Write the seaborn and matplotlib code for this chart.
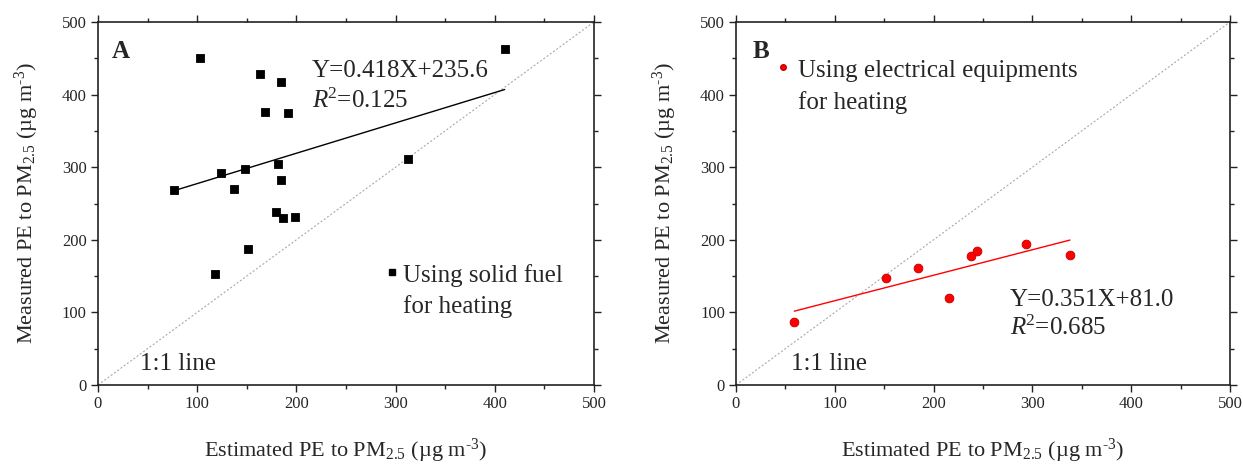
import numpy as np
import pandas as pd
import matplotlib.pyplot as plt
from matplotlib.ticker import MultipleLocator
import seaborn as sns

# panel A: solid fuel heating
solid_est = [103, 163, 185, 168, 192, 410, 313, 182, 124, 148, 77, 137, 185, 180, 187, 199, 151, 118]
solid_meas = [451, 428, 417, 376, 375, 463, 311, 304, 292, 297, 269, 270, 283, 238, 230, 232, 188, 153]
solid_fit = (0.418, 235.6)

# panel B: electrical heating
elec_est = [59, 152, 184, 216, 238, 244, 294, 338]
elec_meas = [87, 147, 161, 120, 178, 185, 194, 179]
elec_fit = (0.351, 81.0)

sns.set_theme(style="ticks")
plt.rcParams['font.family'] = ['Liberation Serif', 'DejaVu Serif']
plt.rcParams['mathtext.fontset'] = 'custom'
plt.rcParams['mathtext.rm'] = 'Liberation Serif'
plt.rcParams['mathtext.it'] = 'Liberation Serif:italic'
plt.rcParams['mathtext.bf'] = 'Liberation Serif:bold'

fig = plt.figure(figsize=(12.43, 4.66), dpi=100)
ax1 = fig.add_axes([0.0788, 0.1738, 0.3990, 0.7790])
ax2 = fig.add_axes([0.5921, 0.1738, 0.3974, 0.7790])

xlab = 'Estimated PE to PM$_{2.5}$ (\u00b5g m$^{\u20103}$)'
ylab = 'Measured PE to PM$_{2.5}$ (\u00b5g m$^{\u20103}$)'
FS = 18


def panel(ax, est, meas, fit, color, marker, size, edge, one_x):
    df = pd.DataFrame({'est': est, 'meas': meas})
    # 1:1 reference line
    ax.plot([0, 500], [0, 500], color='#a8a8a8', lw=0.8, ls=(0, (1.8, 1.8)), zorder=1)
    xs = np.array([min(est), max(est)])
    line = pd.DataFrame({'x': xs, 'y': fit[0] * xs + fit[1]})
    sns.lineplot(data=line, x='x', y='y', ax=ax, color=color, lw=1.0, zorder=2)
    sns.scatterplot(data=df, x='est', y='meas', ax=ax, color=color, marker=marker,
                    s=size, edgecolor=edge, linewidth=0.6, zorder=3)
    ax.set_xlim(0, 500)
    ax.set_ylim(0, 500)
    ax.xaxis.set_major_locator(MultipleLocator(100))
    ax.yaxis.set_major_locator(MultipleLocator(100))
    ax.xaxis.set_minor_locator(MultipleLocator(50))
    ax.yaxis.set_minor_locator(MultipleLocator(50))
    ax.tick_params(which='major', length=5, width=1.0, direction='out', labelsize=12,
                   top=True, right=True, color='#222222', pad=3)
    ax.tick_params(which='minor', length=3, width=1.0, direction='out',
                   top=True, right=True, color='#222222')
    for s in ax.spines.values():
        s.set_linewidth(1.2)
        s.set_color('#222222')
    ax.set_xlabel(xlab, fontsize=16, labelpad=18)
    ax.set_ylabel(ylab, fontsize=16, labelpad=15)
    ax.text(one_x, 20, '1:1 line', fontsize=FS, va='baseline')


panel(ax1, solid_est, solid_meas, solid_fit, 'black', 's', 30, 'black', 42)
ax1.text(0.028, 0.90, 'A', transform=ax1.transAxes, fontsize=FS, fontweight='bold',
         va='baseline')
ax1.text(0.432, 0.848, 'Y=0.418X+235.6', transform=ax1.transAxes, fontsize=FS,
         va='baseline')
ax1.text(0.432, 0.763, '$R$$^2$=0.125', transform=ax1.transAxes, fontsize=FS,
         va='baseline')
ax1.plot([296], [156], marker='s', color='black', ms=4, ls='none')
ax1.text(308, 142, 'Using solid fuel', fontsize=FS, va='baseline')
ax1.text(308, 99, 'for heating', fontsize=FS, va='baseline')

panel(ax2, elec_est, elec_meas, elec_fit, 'red', 'o', 40, '#c00000', 56)
ax2.text(0.034, 0.90, 'B', transform=ax2.transAxes, fontsize=FS, fontweight='bold',
         va='baseline')
ax2.plot([48], [438], marker='o', color='red', mec='#c00000', ms=4, ls='none')
ax2.text(63, 424, 'Using electrical equipments', fontsize=FS, va='baseline')
ax2.text(63, 380, 'for heating', fontsize=FS, va='baseline')
ax2.text(0.555, 0.218, 'Y=0.351X+81.0', transform=ax2.transAxes, fontsize=FS,
         va='baseline')
ax2.text(0.555, 0.138, '$R$$^2$=0.685', transform=ax2.transAxes, fontsize=FS,
         va='baseline')

fig.savefig('out.png', dpi=100)
